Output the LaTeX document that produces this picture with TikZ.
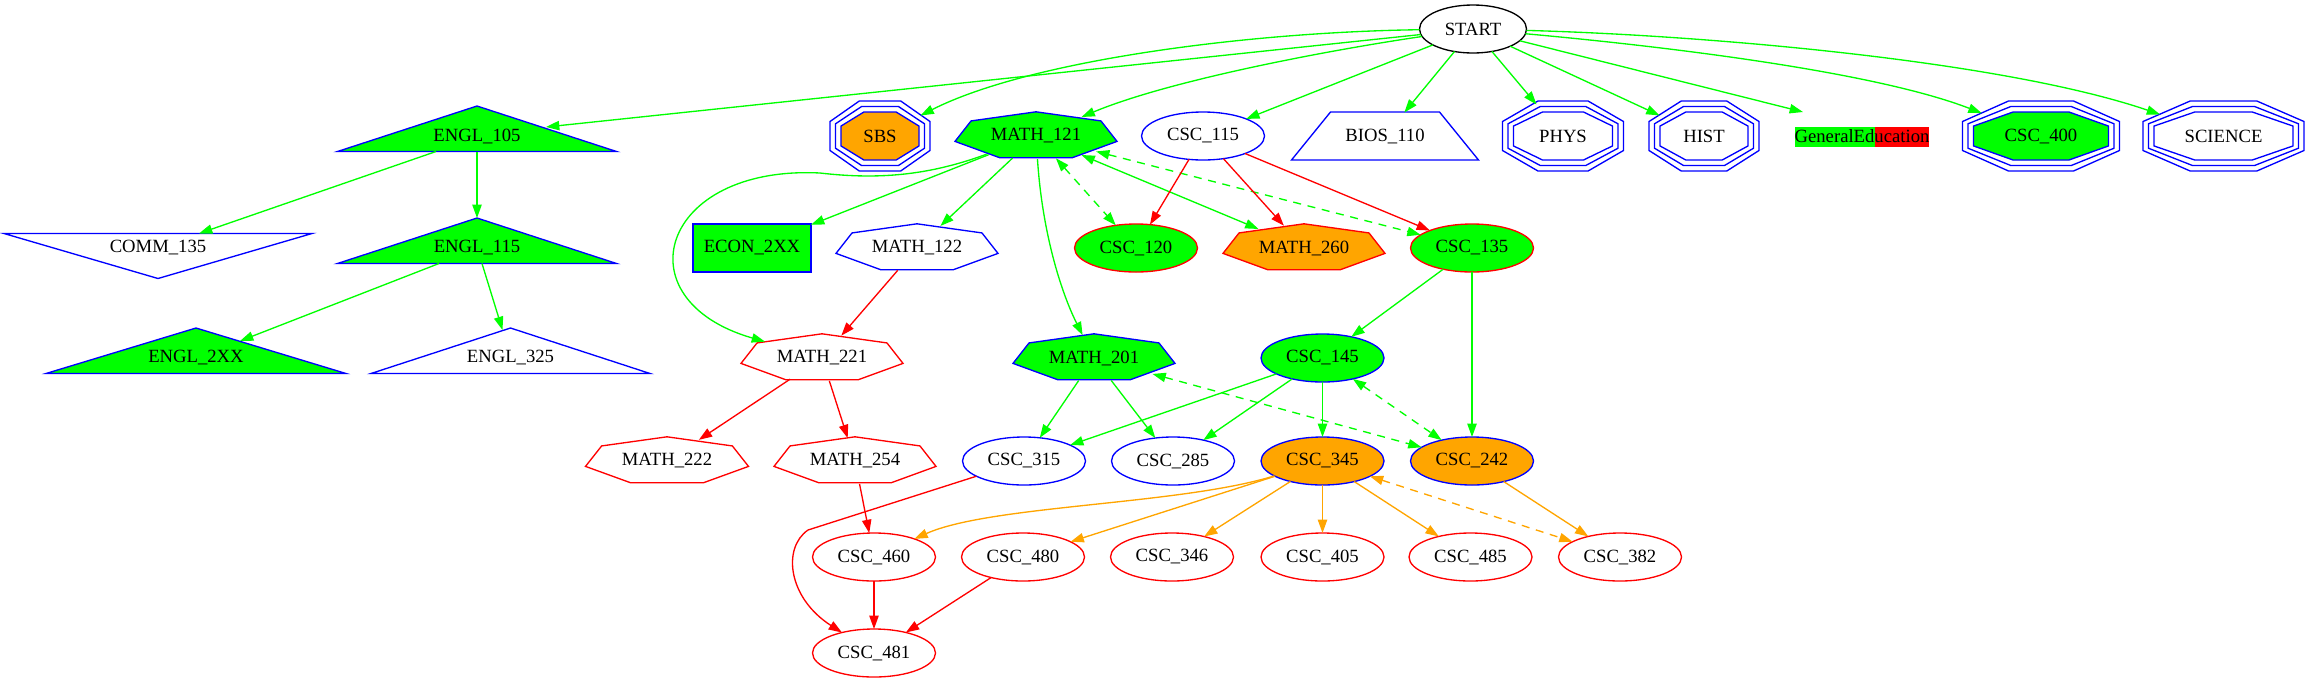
\documentclass[tikz,border=0pt]{standalone}
\usepackage{fontspec}
\setmainfont{Liberation Serif}
\usetikzlibrary{arrows.meta,calc,shapes.geometric}
\pgfdeclarelayer{bg}
\pgfsetlayers{bg,main}
\definecolor{gvgreen}{HTML}{00FF00}
\definecolor{gvblue}{HTML}{0000FF}
\definecolor{gvred}{HTML}{FF0000}
\definecolor{gvorange}{HTML}{FFA500}

% septagon: node, W, H, draw, fill  (px units)
\newcommand\gvsept[5]{%
  \begin{pgfonlayer}{bg}
  \path[draw=#4,fill=#5,line width=1pt]
    ($(#1.center)+(0,{-(#3)/1.901})$) --
    ($(#1.center)+({0.401*(#2)},{-0.623*(#3)/1.901})$) --
    ($(#1.center)+({0.5*(#2)},{0.223*(#3)/1.901})$) --
    ($(#1.center)+({0.2225*(#2)},{0.901*(#3)/1.901})$) --
    ($(#1.center)+({-0.2225*(#2)},{0.901*(#3)/1.901})$) --
    ($(#1.center)+({-0.5*(#2)},{0.223*(#3)/1.901})$) --
    ($(#1.center)+({-0.401*(#2)},{-0.623*(#3)/1.901})$) -- cycle;
  \end{pgfonlayer}}
% octagon: node, W, H, draw, fill
\newcommand\gvoct[5]{%
  \begin{pgfonlayer}{bg}
  \path[draw=#4,fill=#5,line width=1pt]
    ($(#1.center)+({-0.207*(#2)},{-0.5*(#3)})$) --
    ($(#1.center)+({0.207*(#2)},{-0.5*(#3)})$) --
    ($(#1.center)+({0.5*(#2)},{-0.207*(#3)})$) --
    ($(#1.center)+({0.5*(#2)},{0.207*(#3)})$) --
    ($(#1.center)+({0.207*(#2)},{0.5*(#3)})$) --
    ($(#1.center)+({-0.207*(#2)},{0.5*(#3)})$) --
    ($(#1.center)+({-0.5*(#2)},{0.207*(#3)})$) --
    ($(#1.center)+({-0.5*(#2)},{-0.207*(#3)})$) -- cycle;
  \end{pgfonlayer}}
% triple octagon: node, inner W, inner H, fill
\newcommand\gvtriple[4]{%
  \gvoct{#1}{#2}{#3}{gvblue}{#4}%
  \gvoct{#1}{(#2)+11}{(#3)+11}{gvblue}{none}%
  \gvoct{#1}{(#2)+22}{(#3)+22}{gvblue}{none}}
% triangle up: node, W, fill
\newcommand\gvtriup[3]{%
  \begin{pgfonlayer}{bg}
  \path[draw=gvblue,fill=#3,line width=1pt]
    ($(#1.center)+(0,-30)$) -- ($(#1.center)+({0.5*(#2)},15.5)$) --
    ($(#1.center)+({-0.5*(#2)},15.5)$) -- cycle;
  \end{pgfonlayer}}
% triangle down: node, W, fill
\newcommand\gvtridown[3]{%
  \begin{pgfonlayer}{bg}
  \path[draw=gvblue,fill=#3,line width=1pt]
    ($(#1.center)+(0,30.5)$) -- ($(#1.center)+({0.5*(#2)},-14.5)$) --
    ($(#1.center)+({-0.5*(#2)},-14.5)$) -- cycle;
  \end{pgfonlayer}}

\begin{document}
\begin{tikzpicture}[x=0.75pt,y=-0.75pt,
  gv/.style={inner sep=0pt,outer sep=0pt,font=\fontsize{14}{16}\selectfont},
  ellnode/.style={gv,ellipse,minimum width=92.25pt,minimum height=36pt,line width=1pt},
  anc/.style 2 args={gv,ellipse,minimum width=#1,minimum height=#2},
  septanc/.style={anc={121.5pt}{34.5pt}},
  tip/.tip={Triangle[length=10pt,width=7pt]},
  ge/.style={line width=1pt,draw=gvgreen,-tip},
  re/.style={line width=1pt,draw=gvred,-tip},
  oe/.style={line width=1pt,draw=gvorange,-tip},
  gboth/.style={line width=1pt,draw=gvgreen,tip-tip},
  oboth/.style={line width=1pt,draw=gvorange,tip-tip},
  dsh/.style={dash pattern=on 6pt off 5pt}]
\useasboundingbox (0,0) rectangle (2309,683);

% ---------- row 0
\node[ellnode,draw=black,minimum width=80.25pt] (start) at (1473,29) {START};

% ---------- row 1
\node[gv] (e105) at (477,136) {ENGL\_105};
\node[anc={75pt}{52.5pt}] (sbs) at (880,136) {SBS};
\node[septanc] (m121) at (1036,136) {MATH\_121};
\node[ellnode,draw=gvblue] (c115) at (1203,136) {CSC\_115};
\node[anc={140.25pt}{36pt}] (bios) at (1385,136) {BIOS\_110};
\node[anc={90.75pt}{52.5pt}] (phys) at (1563,136) {PHYS};
\node[anc={82.5pt}{52.5pt}] (hist) at (1704,136) {HIST};
\node[gv,minimum width=100.5pt,minimum height=36pt] (gened) at (1862,136) {GeneralEducation};
\node[anc={117.75pt}{52.5pt}] (c400) at (2041,136) {CSC\_400};
\node[anc={120.75pt}{52.5pt}] (sci) at (2223.5,136) {SCIENCE};

% ---------- row 2
\node[gv] (comm) at (158,248) {COMM\_135};
\node[gv] (e115) at (477,248) {ENGL\_115};
\node[gv,draw=gvblue,fill=gvgreen,line width=1pt,minimum width=88.5pt,minimum height=36pt] (econ) at (752,248) {ECON\_2XX};
\node[septanc] (m122) at (917,248) {MATH\_122};
\node[ellnode,draw=gvred,fill=gvgreen] (c120) at (1136,248) {CSC\_120};
\node[septanc] (m260) at (1304,248) {MATH\_260};
\node[ellnode,draw=gvred,fill=gvgreen] (c135) at (1472,248) {CSC\_135};

% ---------- row 3
\node[gv] (e2xx) at (196,358) {ENGL\_2XX};
\node[gv] (e325) at (510.5,358) {ENGL\_325};
\node[septanc] (m221) at (822,358) {MATH\_221};
\node[septanc] (m201) at (1094,358) {MATH\_201};
\node[ellnode,draw=gvblue,fill=gvgreen] (c145) at (1322.5,358) {CSC\_145};

% ---------- row 4
\node[septanc] (m222) at (667,461) {MATH\_222};
\node[septanc] (m254) at (855,461) {MATH\_254};
\node[ellnode,draw=gvblue] (c315) at (1024,461) {CSC\_315};
\node[ellnode,draw=gvblue] (c285) at (1173,461) {CSC\_285};
\node[ellnode,draw=gvblue,fill=gvorange] (c345) at (1322.5,461) {CSC\_345};
\node[ellnode,draw=gvblue,fill=gvorange] (c242) at (1472,461) {CSC\_242};

% ---------- row 5
\node[ellnode,draw=gvred] (c460) at (874,557) {CSC\_460};
\node[ellnode,draw=gvred] (c480) at (1023,557) {CSC\_480};
\node[ellnode,draw=gvred] (c346) at (1172,557) {CSC\_346};
\node[ellnode,draw=gvred] (c405) at (1322.5,557) {CSC\_405};
\node[ellnode,draw=gvred] (c485) at (1470.5,557) {CSC\_485};
\node[ellnode,draw=gvred] (c382) at (1620,557) {CSC\_382};

% ---------- row 6
\node[ellnode,draw=gvred] (c481) at (874,653) {CSC\_481};

% ---------- node outlines
\gvtriup{e105}{279}{gvgreen}
\gvtriup{e115}{279}{gvgreen}
\gvtriup{e2xx}{300}{gvgreen}
\gvtriup{e325}{279}{none}
\gvtridown{comm}{308}{none}
\gvtriple{sbs}{78}{48}{gvorange}
\gvtriple{phys}{99}{48}{none}
\gvtriple{hist}{88}{48}{none}
\gvtriple{c400}{135}{48}{gvgreen}
\gvtriple{sci}{139}{48}{none}
\gvsept{m121}{162}{46}{gvblue}{gvgreen}
\gvsept{m122}{162}{46}{gvblue}{none}
\gvsept{m260}{162}{46}{gvred}{gvorange}
\gvsept{m221}{162}{46}{gvred}{none}
\gvsept{m201}{162}{46}{gvblue}{gvgreen}
\gvsept{m222}{163}{46}{gvred}{none}
\gvsept{m254}{162}{46}{gvred}{none}
\begin{pgfonlayer}{bg}
  \path[draw=gvblue,line width=1pt]
    ($(bios.center)+(-54.5,-24)$) -- ($(bios.center)+(54.5,-24)$) --
    ($(bios.center)+(93.5,24)$) -- ($(bios.center)+(-93.5,24)$) -- cycle;
  \fill[gvgreen] ($(gened.center)+(-67,-9)$) rectangle ($(gened.center)+(13,11)$);
  \fill[gvred] ($(gened.center)+(13,-9)$) rectangle ($(gened.center)+(67,11)$);
\end{pgfonlayer}

% ---------- edges from START
\draw[ge] (start) -- ($(e105.center)+(69,-9)$);
\draw[ge] (start) .. controls (1250,32) and (1030,60) .. (sbs);
\draw[ge] (start) .. controls (1330,50) and (1170,80) .. (m121);
\draw[ge] (start) -- (c115);
\draw[ge] (start) -- (bios);
\draw[ge] (start) -- (phys);
\draw[ge] (start) -- (hist);
\draw[ge] (start) -- ($(gened.center)+(-59,-24)$);
\draw[ge] (start) .. controls (1650,45) and (1870,70) .. (c400);
\draw[ge] (start) .. controls (1700,35) and (2000,60) .. (sci);

% ---------- English
\draw[ge] ($(e105.center)+(-41,15.5)$) -- ($(comm.center)+(41,-14.5)$);
\draw[ge] ($(e105.center)+(0,15.5)$) -- ($(e115.center)+(0,-30)$);
\draw[ge] ($(e115.center)+(-38,15.5)$) -- ($(e2xx.center)+(44,-17)$);
\draw[ge] ($(e115.center)+(5,15.5)$) -- ($(e325.center)+(-8,-28)$);

% ---------- MATH_121
\draw[ge] (m121) -- (econ);
\draw[ge] (m121) -- (m122);
\draw[ge] (m121) .. controls (930,175) and (880,180) .. (820,173)
  .. controls (660,165) and (620,300) .. (m221);
\draw[ge] (m121) .. controls (1042,230) and (1060,290) .. (m201);
\draw[gboth,dsh] (m121) -- (c120);
\draw[gboth] (m121) -- (m260);
\draw[gboth,dsh] (m121) -- (c135);

% ---------- CSC_115
\draw[re] (c115) -- (c120);
\draw[re] (c115) -- (m260);
\draw[re] (c115) -- (c135);

\draw[re] (m122) -- (m221);
\draw[ge] (c135) -- (c145);
\draw[ge] (c135) -- (c242);

\draw[re] (m221) -- (m222);
\draw[re] (m221) -- (m254);

\draw[ge] (m201) -- (c315);
\draw[ge] (m201) -- (c285);
\draw[gboth,dsh] (m201) -- (c242);

\draw[ge] (c145) -- (c315);
\draw[ge] (c145) -- (c285);
\draw[ge] (c145) -- (c345);
\draw[gboth,dsh] (c145) -- (c242);

\draw[re] (m254) -- (c460);
\draw[re] (c315) -- (808,530) .. controls (782,548) and (788,598) .. (c481);

\draw[oe] (c345) .. controls (1180,505) and (990,505) .. (c460);
\draw[oe] (c345) -- (c480);
\draw[oe] (c345) -- (c346);
\draw[oe] (c345) -- (c405);
\draw[oe] (c345) -- (c485);
\draw[oboth,dsh] (c345) -- (c382);
\draw[oe] (c242) -- (c382);

\draw[re] (c460) -- (c481);
\draw[re] (c480) -- (c481);
\end{tikzpicture}
\end{document}
